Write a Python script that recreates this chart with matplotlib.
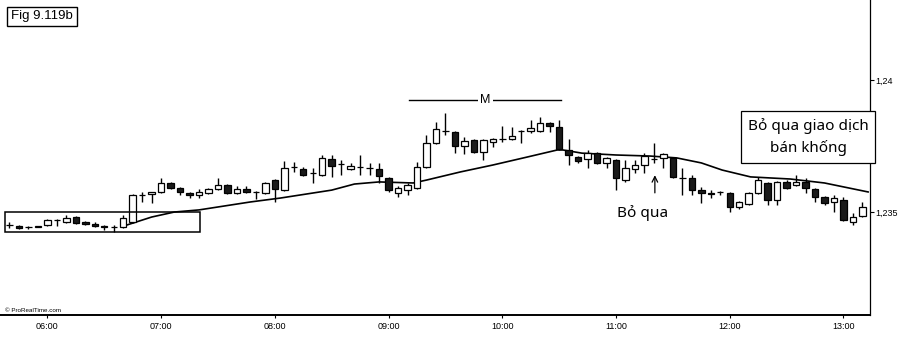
import numpy as np
import pandas as pd
import matplotlib
matplotlib.use("Agg")
import matplotlib.pyplot as plt
import matplotlib.dates as mdates
from matplotlib.patches import Rectangle

# 5-minute bars, 05:40 -> 13:10
start = "2012-01-02 05:40"
opens = [1.23451, 1.23447, 1.23444, 1.23445, 1.23451, 1.23470, 1.23462, 1.23481, 1.23462, 1.23455,
         1.23447, 1.23443, 1.23443, 1.23462, 1.23564, 1.23568, 1.23576, 1.23610, 1.23591, 1.23572,
         1.23564, 1.23572, 1.23587, 1.23602, 1.23572, 1.23587, 1.23576, 1.23572, 1.23621, 1.23583,
         1.23670, 1.23663, 1.23648, 1.23640, 1.23701, 1.23682, 1.23663, 1.23670, 1.23667, 1.23663,
         1.23629, 1.23572, 1.23583, 1.23591, 1.23670, 1.23761, 1.23807, 1.23803, 1.23750, 1.23773,
         1.23727, 1.23765, 1.23777, 1.23777, 1.23807, 1.23807, 1.23807, 1.23837, 1.23822, 1.23735,
         1.23708, 1.23701, 1.23723, 1.23686, 1.23697, 1.23621, 1.23663, 1.23678, 1.23701, 1.23705,
         1.23705, 1.23629, 1.23629, 1.23583, 1.23572, 1.23576, 1.23572, 1.23519, 1.23530, 1.23572,
         1.23610, 1.23545, 1.23614, 1.23602, 1.23614, 1.23587, 1.23557, 1.23538, 1.23545, 1.23462,
         1.23485]
highs = [1.23462, 1.23451, 1.23447, 1.23447, 1.23473, 1.23473, 1.23489, 1.23485, 1.23466, 1.23462,
         1.23451, 1.23451, 1.23489, 1.23568, 1.23576, 1.23576, 1.23629, 1.23614, 1.23595, 1.23576,
         1.23587, 1.23591, 1.23629, 1.23606, 1.23598, 1.23598, 1.23580, 1.23614, 1.23625, 1.23693,
         1.23689, 1.23670, 1.23667, 1.23716, 1.23716, 1.23697, 1.23686, 1.23716, 1.23686, 1.23686,
         1.23633, 1.23598, 1.23610, 1.23689, 1.23792, 1.23841, 1.23875, 1.23807, 1.23784, 1.23777,
         1.23777, 1.23780, 1.23826, 1.23822, 1.23811, 1.23848, 1.23860, 1.23841, 1.23848, 1.23777,
         1.23712, 1.23735, 1.23727, 1.23708, 1.23701, 1.23697, 1.23697, 1.23723, 1.23761, 1.23723,
         1.23708, 1.23667, 1.23640, 1.23595, 1.23583, 1.23580, 1.23576, 1.23542, 1.23576, 1.23633,
         1.23614, 1.23617, 1.23621, 1.23640, 1.23629, 1.23591, 1.23561, 1.23564, 1.23557, 1.23496,
         1.23538]
lows = [1.23439, 1.23436, 1.23436, 1.23443, 1.23447, 1.23447, 1.23458, 1.23455, 1.23451, 1.23443,
        1.23432, 1.23424, 1.23439, 1.23458, 1.23538, 1.23534, 1.23572, 1.23587, 1.23564, 1.23553,
        1.23553, 1.23568, 1.23583, 1.23568, 1.23568, 1.23572, 1.23549, 1.23568, 1.23538, 1.23580,
        1.23652, 1.23636, 1.23610, 1.23636, 1.23633, 1.23640, 1.23659, 1.23640, 1.23640, 1.23610,
        1.23576, 1.23557, 1.23564, 1.23587, 1.23667, 1.23758, 1.23792, 1.23723, 1.23720, 1.23723,
        1.23697, 1.23746, 1.23765, 1.23773, 1.23761, 1.23799, 1.23803, 1.23803, 1.23735, 1.23678,
        1.23686, 1.23667, 1.23682, 1.23667, 1.23583, 1.23614, 1.23648, 1.23648, 1.23686, 1.23667,
        1.23629, 1.23564, 1.23564, 1.23534, 1.23553, 1.23564, 1.23500, 1.23511, 1.23527, 1.23568,
        1.23527, 1.23527, 1.23587, 1.23598, 1.23572, 1.23538, 1.23527, 1.23500, 1.23466, 1.23451,
        1.23481]
closes = [1.23449, 1.23439, 1.23443, 1.23445, 1.23470, 1.23468, 1.23477, 1.23458, 1.23455, 1.23447,
          1.23443, 1.23443, 1.23477, 1.23564, 1.23563, 1.23576, 1.23610, 1.23591, 1.23576, 1.23566,
          1.23576, 1.23587, 1.23602, 1.23572, 1.23587, 1.23576, 1.23574, 1.23610, 1.23587, 1.23667,
          1.23669, 1.23640, 1.23646, 1.23705, 1.23674, 1.23680, 1.23674, 1.23669, 1.23665, 1.23636,
          1.23583, 1.23591, 1.23602, 1.23670, 1.23761, 1.23814, 1.23805, 1.23750, 1.23769, 1.23727,
          1.23773, 1.23777, 1.23775, 1.23788, 1.23805, 1.23818, 1.23837, 1.23826, 1.23739, 1.23716,
          1.23693, 1.23723, 1.23686, 1.23705, 1.23629, 1.23667, 1.23678, 1.23712, 1.23699, 1.23720,
          1.23633, 1.23627, 1.23583, 1.23572, 1.23570, 1.23574, 1.23519, 1.23538, 1.23572, 1.23621,
          1.23545, 1.23614, 1.23591, 1.23614, 1.23591, 1.23557, 1.23534, 1.23553, 1.23470, 1.23481,
          1.23519]

# moving average, vertices
ma_times = ["06:42", "06:55", "07:07", "07:20", "07:47", "08:03", "08:30", "08:42", "08:55",
            "09:13", "09:20", "09:38", "09:55", "10:13", "10:29", "10:32", "10:42", "11:00",
            "11:18", "11:32", "11:45", "11:56", "12:11", "12:32", "12:50", "13:13"]
ma_vals = [1.23451, 1.23481, 1.23500, 1.23508, 1.23538, 1.23553, 1.23583, 1.23606, 1.23614,
           1.23610, 1.23621, 1.23652, 1.23678, 1.23708, 1.23735, 1.23735, 1.23723, 1.23716,
           1.23712, 1.23705, 1.23686, 1.23659, 1.23633, 1.23625, 1.23610, 1.23576]

hour_ticks = ["06:00", "07:00", "08:00", "09:00", "10:00", "11:00", "12:00", "13:00"]
price_ticks = [1.235, 1.24]

day = "2012-01-02 "
t = mdates.date2num(pd.date_range(start, periods=len(opens), freq="5min"))
o = np.array(opens); h = np.array(highs); l = np.array(lows); c = np.array(closes)
bar_w = 5 / 1440 * 0.68

fig = plt.figure(figsize=(9.02, 3.37), dpi=100)
ax = fig.add_axes([0, 22 / 337, 870 / 902, 315 / 337])

ax.vlines(t, l, h, color="black", lw=1.0, zorder=2)
bottom = np.minimum(o, c)
height = np.maximum(np.abs(c - o), 0.000004)
cols = np.where(c < o, "#1a1a1a", "white")
ax.bar(t, height, width=bar_w, bottom=bottom, color=cols, edgecolor="black",
       linewidth=0.9, zorder=3)

ma_t = mdates.date2num(pd.to_datetime([day + s for s in ma_times]))
ax.plot(ma_t, ma_vals, color="black", lw=1.2, zorder=1)

# box around opening range
bx0 = mdates.date2num(pd.Timestamp(day + "05:37:45"))
bx1 = mdates.date2num(pd.Timestamp(day + "07:20:30"))
ax.add_patch(Rectangle((bx0, 1.23423), bx1 - bx0, 1.23499 - 1.23423, fill=False,
                       edgecolor="black", lw=1.1, zorder=4))

# M line
m0 = mdates.date2num(pd.Timestamp(day + "09:11"))
m1 = mdates.date2num(pd.Timestamp(day + "10:31"))
mc = mdates.date2num(pd.Timestamp(day + "09:51"))
ax.plot([m0, m1], [1.23924, 1.23924], color="black", lw=1.0)
ax.text(mc, 1.23924, "M", ha="center", va="center", fontsize=9, family="Liberation Sans",
        bbox=dict(facecolor="white", edgecolor="none", pad=1.5))

# Bo qua arrow
ax_t = mdates.date2num(pd.Timestamp(day + "11:20:30"))
ax.annotate("", xy=(ax_t, 1.23650), xytext=(ax_t, 1.23562),
            arrowprops=dict(arrowstyle="->", color="black", lw=0.9))
ax.text(mdates.date2num(pd.Timestamp(day + "11:14")), 1.23496, "Bỏ qua", ha="center",
        va="center", fontsize=11, family="Noto Sans")

ax.set_xlim(mdates.date2num(pd.Timestamp(day + "05:35")),
            mdates.date2num(pd.Timestamp(day + "13:14")))
ax.set_ylim(1.23110, 1.24303)

ax.set_xticks(mdates.date2num(pd.to_datetime([day + s for s in hour_ticks])))
ax.set_xticklabels(hour_ticks, fontsize=6.5, family="Liberation Sans")
ax.tick_params(axis="x", length=2, width=0.8, pad=3)

ax.yaxis.tick_right()
ax.set_yticks(price_ticks)
ax.set_yticklabels([f"{v:g}".replace(".", ",") for v in price_ticks], fontsize=6.5,
                   family="Liberation Sans")
ax.tick_params(axis="y", length=3, width=0.8, pad=1)

for s in ["left", "top"]:
    ax.spines[s].set_visible(False)
ax.spines["bottom"].set_linewidth(1.4)
ax.spines["right"].set_linewidth(0.9)

fig.text(0.012, 1 - 16.5 / 337, "Fig 9.119b", ha="left", va="center", fontsize=9.5,
         family="Liberation Sans",
         bbox=dict(boxstyle="square,pad=0.3", facecolor="white", edgecolor="black", lw=1.0))
fig.text(808 / 902, 1 - 137 / 337, "Bỏ qua giao dịch\nbán khống", ha="center", va="center",
         fontsize=11, family="Noto Sans", linespacing=1.45,
         bbox=dict(boxstyle="square,pad=0.45", facecolor="white", edgecolor="black", lw=0.9))
fig.text(5 / 902, 1 - 311 / 337, "© ProRealTime.com", ha="left", va="center", fontsize=4.5,
         family="Liberation Sans")

fig.savefig("out.png", dpi=100)
